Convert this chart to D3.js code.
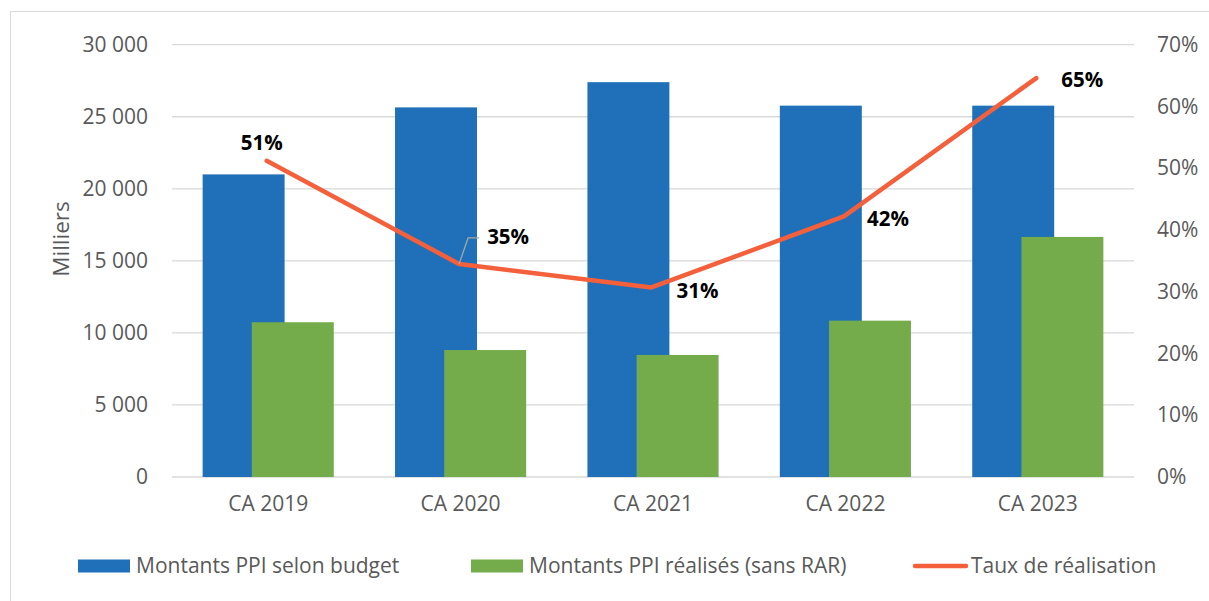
<!DOCTYPE html>
<html>
<head>
<meta charset="utf-8">
<script src="https://cdn.jsdelivr.net/npm/d3@7"></script>
<style>
  body { margin: 0; background: #fff; }
  svg, svg text { font-family: "Open Sans", sans-serif; }
</style>
</head>
<body>
<svg id="chart" width="1209" height="601"></svg>
<script>
// data
const categories = ["CA 2019", "CA 2020", "CA 2021", "CA 2022", "CA 2023"];
const budget = [21000, 25650, 27400, 25770, 25770];
const realise = [10740, 8810, 8470, 10850, 16660];
const taux = [0.512, 0.345, 0.307, 0.422, 0.646];
const tauxLabels = ["51%", "35%", "31%", "42%", "65%"];
const leftTicks = [0, 5000, 10000, 15000, 20000, 25000, 30000];
const rightTicks = [0, 0.1, 0.2, 0.3, 0.4, 0.5, 0.6, 0.7];

const blue = "#1f70b8", green = "#74ac4b", orange = "#f4603c";
const textGrey = "#595959";
const fontFamily = "'Open Sans', sans-serif";

const margin = {left: 172, right: 75, top: 44.7, bottom: 124};
const W = 1209, H = 601;
const svg = d3.select("#chart");

// outer frame
svg.append("rect")
    .attr("x", 10.5).attr("y", 11.5)
    .attr("width", 1220).attr("height", 620)
    .attr("fill", "none").attr("stroke", "#d9d9d9");

const x = d3.scaleBand()
    .domain(categories)
    .range([margin.left, W - margin.right]);
const y = d3.scaleLinear().domain([0, 30000]).range([477, 44.7]);
const y2 = d3.scaleLinear().domain([0, 0.7]).range([477, 44.7]);

const fmt = v => d3.format(",")(v).replace(/,/g, " ");

// gridlines
svg.append("g")
    .selectAll("line")
    .data(leftTicks)
    .join("line")
    .attr("x1", margin.left).attr("x2", W - margin.right)
    .attr("y1", d => y(d)).attr("y2", d => y(d))
    .attr("stroke", "#d9d9d9").attr("stroke-width", 1.3);

function styleAxis(g) {
    g.attr("font-family", fontFamily).attr("font-size", 21);
    g.select(".domain").remove();
    g.selectAll("text").attr("fill", textGrey);
}

// left axis
svg.append("g")
    .attr("transform", `translate(${margin.left},0)`)
    .call(d3.axisLeft(y).tickValues(leftTicks).tickFormat(fmt).tickSize(0).tickPadding(24))
    .call(styleAxis);

// right axis
svg.append("g")
    .attr("transform", `translate(${W - margin.right},0)`)
    .call(d3.axisRight(y2).tickValues(rightTicks).tickFormat(d3.format(".0%")).tickSize(0).tickPadding(23))
    .call(styleAxis);

// category axis
svg.append("g")
    .attr("transform", `translate(0,${y(0)})`)
    .call(d3.axisBottom(x).tickSize(0).tickPadding(19))
    .call(styleAxis);

// axis title
svg.append("text")
    .attr("transform", "translate(69,239) rotate(-90)")
    .attr("text-anchor", "middle")
    .attr("fill", textGrey)
    .attr("font-size", 22.5)
    .text("Milliers");

// bars
const barW = x.bandwidth() * 0.426;
const step = barW * 0.6;
const groupW = barW + step;

svg.append("g")
    .selectAll("rect")
    .data(budget)
    .join("rect")
    .attr("x", (d, i) => x(categories[i]) + x.bandwidth() / 2 - groupW / 2)
    .attr("y", d => y(d))
    .attr("width", barW)
    .attr("height", d => y(0) - y(d))
    .attr("fill", blue);

svg.append("g")
    .selectAll("rect")
    .data(realise)
    .join("rect")
    .attr("x", (d, i) => x(categories[i]) + x.bandwidth() / 2 - groupW / 2 + step)
    .attr("y", d => y(d))
    .attr("width", barW)
    .attr("height", d => y(0) - y(d))
    .attr("fill", green);

// line
const cx = i => x(categories[i]) + x.bandwidth() / 2 - 1.5;
const line = d3.line()
    .x((d, i) => cx(i))
    .y(d => y2(d));

svg.append("path")
    .datum(taux)
    .attr("d", line)
    .attr("fill", "none")
    .attr("stroke", orange)
    .attr("stroke-width", 4.5)
    .attr("stroke-linecap", "round")
    .attr("stroke-linejoin", "round");

// data labels (offsets as placed in the source chart)
const labelOffsets = [[-5, -18], [49, -27], [46, 3], [44, 2], [46, 2]];

// leader line for 35%
svg.append("path")
    .attr("d", `M${cx(1)},${y2(taux[1])} L${cx(1) + 9},${y2(taux[1]) - 26} L${cx(1) + 20},${y2(taux[1]) - 26}`)
    .attr("fill", "none")
    .attr("stroke", "#a6a6a6")
    .attr("stroke-width", 1.3);

svg.append("g")
    .selectAll("text")
    .data(taux)
    .join("text")
    .attr("x", (d, i) => cx(i) + labelOffsets[i][0])
    .attr("y", (d, i) => y2(d) + labelOffsets[i][1])
    .attr("dy", "0.35em")
    .attr("text-anchor", "middle")
    .attr("font-weight", "bold")
    .attr("font-size", 20.5)
    .attr("fill", "#000")
    .text((d, i) => tauxLabels[i]);

// legend
const legendItems = [
    {name: "Montants PPI selon budget", color: blue, type: "rect", x: 78},
    {name: "Montants PPI réalisés (sans RAR)", color: green, type: "rect", x: 471},
    {name: "Taux de réalisation", color: orange, type: "line", x: 913}
];
const legend = svg.append("g").attr("transform", "translate(0,566)");
legendItems.forEach(it => {
    const g = legend.append("g").attr("transform", `translate(${it.x},0)`);
    if (it.type === "rect") {
        g.append("rect").attr("x", 0).attr("y", -6.5).attr("width", 52).attr("height", 13).attr("fill", it.color);
    } else {
        g.append("line").attr("x1", 2).attr("x2", 53).attr("y1", 0).attr("y2", 0)
            .attr("stroke", it.color).attr("stroke-width", 4.5).attr("stroke-linecap", "round");
    }
    g.append("text")
        .attr("x", 58).attr("dy", "0.35em")
        .attr("fill", textGrey).attr("font-size", 21)
        .text(it.name);
});
</script>
</body>
</html>
